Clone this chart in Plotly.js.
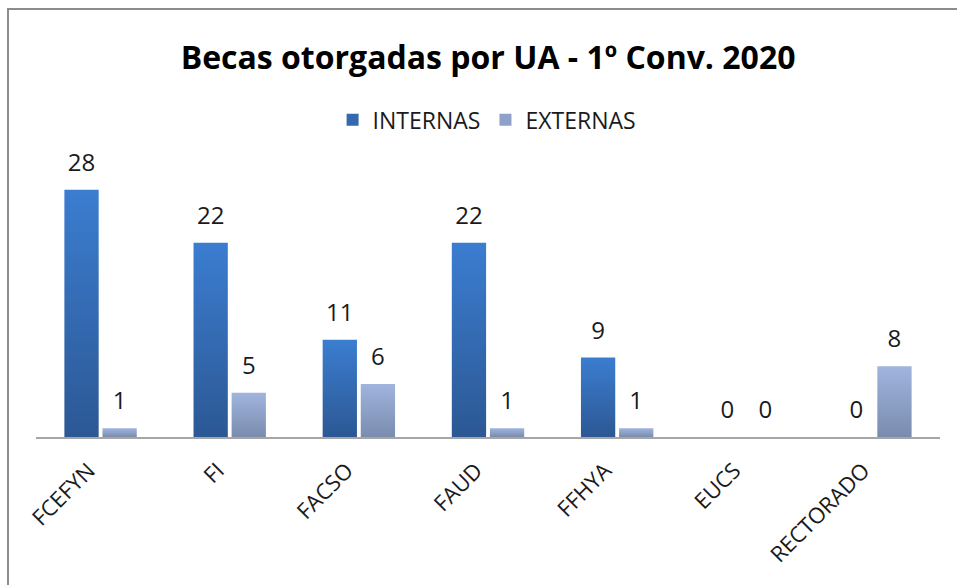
<!DOCTYPE html>
<html>
<head>
<meta charset="utf-8">
<script src="https://cdn.plot.ly/plotly-3.0.1.min.js"></script>
<style>
html,body{margin:0;padding:0;background:#fff;}
#wrap{position:relative;width:957px;height:585px;overflow:hidden;}
#chart{width:957px;height:585px;}
#frame{position:absolute;left:7px;top:8px;width:960px;height:600px;border-left:2px solid #8c8c8c;border-top:2px solid #8c8c8c;pointer-events:none;}
</style>
</head>
<body>
<div id="wrap"><div id="chart"></div><div id="frame"></div></div>
<script>
const categories = ["FCEFYN", "FI", "FACSO", "FAUD", "FFHYA", "EUCS", "RECTORADO"];
const internas = [28, 22, 11, 22, 9, 0, 0];
const externas = [1, 5, 6, 1, 1, 0, 8];
const seriesNames = ["INTERNAS", "EXTERNAS"];

const FONT = "Open Sans, Liberation Sans, sans-serif";

const traces = [
  {type: "bar", name: seriesNames[0], x: categories, y: internas,
   marker: {color: "#3469b0"}, text: internas.map(String), textposition: "outside",
   cliponaxis: false, textfont: {size: 24, color: "#1a1a1a", family: FONT}},
  {type: "bar", name: seriesNames[1], x: categories, y: externas,
   marker: {color: "#8ea1c8"}, text: externas.map(String), textposition: "outside",
   cliponaxis: false, textfont: {size: 24, color: "#1a1a1a", family: FONT}}
];

const layout = {
  width: 957, height: 585,
  margin: {l: 36, r: 17, t: 150, b: 148},
  paper_bgcolor: "#fff", plot_bgcolor: "#fff",
  title: {text: "<b>Becas otorgadas por UA - 1º Conv. 2020</b>", x: 0.51, xanchor: "center", y: 0.902, yanchor: "middle",
          font: {family: FONT, size: 32, color: "#000"}},
  showlegend: true,
  legend: {orientation: "h", x: 0.499, xanchor: "center", y: 1.105, yanchor: "middle",
           font: {family: FONT, size: 23, color: "#1a1a1a"}, itemwidth: 30, traceorder: "normal"},
  barmode: "group", bargap: 0.41, bargroupgap: 0.1,
  xaxis: {type: "category", showline: true, linecolor: "#a6a6a6", linewidth: 2, ticks: "",
          tickangle: -45, tickfont: {family: FONT, size: 22, color: "#1a1a1a"}, showgrid: false, zeroline: false},
  yaxis: {range: [0, 32.5], visible: false, showgrid: false, zeroline: false},
  font: {family: FONT}
};

Plotly.newPlot("chart", traces, layout, {displayModeBar: false, staticPlot: true}).then(function(gd){
  const svg = gd.querySelector("svg.main-svg");
  const ns = "http://www.w3.org/2000/svg";
  let defs = svg.querySelector("defs");
  function grad(id, top, bottom){
    const g = document.createElementNS(ns, "linearGradient");
    g.setAttribute("id", id); g.setAttribute("x1","0"); g.setAttribute("y1","0"); g.setAttribute("x2","0"); g.setAttribute("y2","1");
    const s1 = document.createElementNS(ns, "stop"); s1.setAttribute("offset","0"); s1.setAttribute("stop-color", top);
    const s2 = document.createElementNS(ns, "stop"); s2.setAttribute("offset","1"); s2.setAttribute("stop-color", bottom);
    g.appendChild(s1); g.appendChild(s2); defs.appendChild(g);
  }
  grad("gInt", "#3b7dd0", "#2c5894");
  grad("gExt", "#a0b4de", "#7a8cae");
  const groups = gd.querySelectorAll(".barlayer .trace.bars");
  const ids = ["gInt", "gExt"];
  groups.forEach(function(g, i){
    g.querySelectorAll(".point path").forEach(function(p){ p.style.fill = "url(#" + ids[i] + ")"; });
    g.querySelectorAll("text.bartext").forEach(function(t){
      const tr = t.getAttribute("transform") || "";
      t.setAttribute("transform", "translate(0,-9) " + tr);
    });
  });
  gd.querySelectorAll(".xtick text").forEach(function(t){
    const tr = t.getAttribute("transform") || "";
    t.setAttribute("transform", "translate(-12,10) " + tr);
  });
});
</script>
</body>
</html>
